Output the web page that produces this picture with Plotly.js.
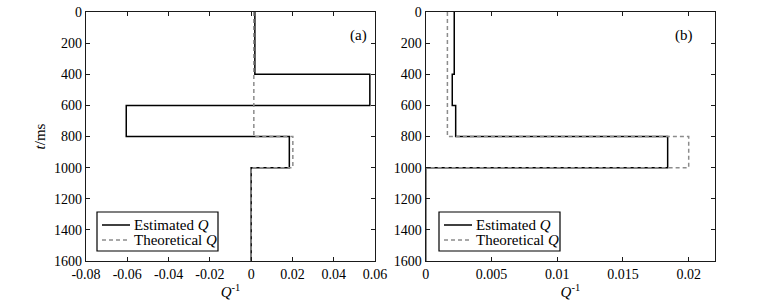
<!DOCTYPE html>
<html><head><meta charset="utf-8">
<script src="https://cdn.plot.ly/plotly-3.0.1.min.js"></script>
<style>html,body{margin:0;padding:0;background:#fff}#c{width:779px;height:304px}</style>
</head><body><div id="c"></div>
<script>
// layer boundaries (ms)
const depthBounds = [0, 400, 600, 800, 1000, 1600];
// layer values of Q^-1 (one per layer)
const estA  = [0.0018, 0.0575, -0.0605, 0.0185, 0];
const theoA = [0.0013, 0.0013, 0.0013, 0.0202, 0];
const estB  = [0.00217, 0.00202, 0.00228, 0.0184, 0];
const theoB = [0.00165, 0.00165, 0.00165, 0.0200, 0];
const yTicks = [0, 200, 400, 600, 800, 1000, 1200, 1400, 1600];
const xTicksA = [-0.08, -0.06, -0.04, -0.02, 0, 0.02, 0.04, 0.06];
const xTicksB = [0, 0.005, 0.01, 0.015, 0.02];
const seriesNames = ['Estimated <i>Q</i>', 'Theoretical <i>Q</i>'];
const panelLabels = ['(a)', '(b)'];

function stepX(v){ return v.concat([v[v.length-1]]); }

const W = 779, H = 304;
const FAM = 'Liberation Serif, Times New Roman, serif';
const font = {family: FAM, size: 14, color: '#000'};
const titleFont = {family: FAM, size: 15, color: '#000'};
const solid = {shape:'vh', color:'#000', width:1.5};
const dashed = {shape:'vh', color:'#8c8c8c', width:1.5, dash:'4px,3px'};

const traces = [
  {x: stepX(estA), y: depthBounds, xaxis:'x', yaxis:'y', mode:'lines', line:solid, name:seriesNames[0]},
  {x: stepX(theoA), y: depthBounds, xaxis:'x', yaxis:'y', mode:'lines', line:dashed, name:seriesNames[1]},
  {x: stepX(estB), y: depthBounds, xaxis:'x2', yaxis:'y2', mode:'lines', line:solid, name:seriesNames[0]},
  {x: stepX(theoB), y: depthBounds, xaxis:'x2', yaxis:'y2', mode:'lines', line:dashed, name:seriesNames[1]}
];

const axCommon = {showgrid:false, zeroline:false, showline:true, linecolor:'#1a1a1a', linewidth:1.2, mirror:'ticks', ticks:'inside', ticklen:4, tickcolor:'#1a1a1a', tickfont:font, ticklabelstandoff:0};
const yDom = [1 - 261/H, 1 - 12/H];

// legend boxes (drawn as paper shapes / annotations)
const px = x => x / W, py = y => 1 - y / H;
const shapes = [], annotations = [];
[97, 439].forEach((lx, i) => {
  shapes.push({type:'rect', xref:'paper', yref:'paper', x0:px(lx), x1:px(lx+121), y0:py(251), y1:py(212), line:{color:'#000', width:1.2}, fillcolor:'#fff', layer:'above'});
  shapes.push({type:'line', xref:'paper', yref:'paper', x0:px(lx+5), x1:px(lx+33), y0:py(225), y1:py(225), line:{color:solid.color, width:1.5}, layer:'above'});
  shapes.push({type:'line', xref:'paper', yref:'paper', x0:px(lx+5), x1:px(lx+33), y0:py(240), y1:py(240), line:{color:dashed.color, width:1.5, dash:dashed.dash}, layer:'above'});
  annotations.push({text:seriesNames[0], xref:'paper', yref:'paper', x:px(lx+35), y:py(225), xanchor:'left', yanchor:'middle', showarrow:false, font:titleFont});
  annotations.push({text:seriesNames[1], xref:'paper', yref:'paper', x:px(lx+35), y:py(240), xanchor:'left', yanchor:'middle', showarrow:false, font:titleFont});
});
annotations.push({text:panelLabels[0], x:px(358), y:py(25), xref:'paper', yref:'paper', showarrow:false, font:titleFont});
annotations.push({text:panelLabels[1], x:px(695), y:py(25), xref:'paper', yref:'paper', showarrow:false, font:titleFont});

const layout = {
  width: W, height: H,
  margin: {l:0, r:0, t:0, b:0},
  paper_bgcolor:'#fff', plot_bgcolor:'#fff',
  font: font,
  showlegend: false,
  xaxis: Object.assign({}, axCommon, {domain:[86/W, 375/W], range:[-0.08, 0.06], tickvals:xTicksA, ticktext:xTicksA.map(String), anchor:'y',
    title:{text:'<i>Q</i><sup>-1</sup>', font:titleFont, standoff:2}}),
  yaxis: Object.assign({}, axCommon, {domain:yDom, range:[1600, 0], tickvals:yTicks, anchor:'x',
    title:{text:'<i>t</i>/ms', font:titleFont, standoff:4}}),
  xaxis2: Object.assign({}, axCommon, {domain:[425.7/W, 715/W], range:[0, 0.022], tickvals:xTicksB, ticktext:xTicksB.map(String), anchor:'y2',
    title:{text:'<i>Q</i><sup>-1</sup>', font:titleFont, standoff:2}}),
  yaxis2: Object.assign({}, axCommon, {domain:yDom, range:[1600, 0], tickvals:yTicks, anchor:'x2'}),
  shapes: shapes,
  annotations: annotations
};

Plotly.newPlot('c', traces, layout, {displayModeBar:false, staticPlot:true});
</script></body></html>
